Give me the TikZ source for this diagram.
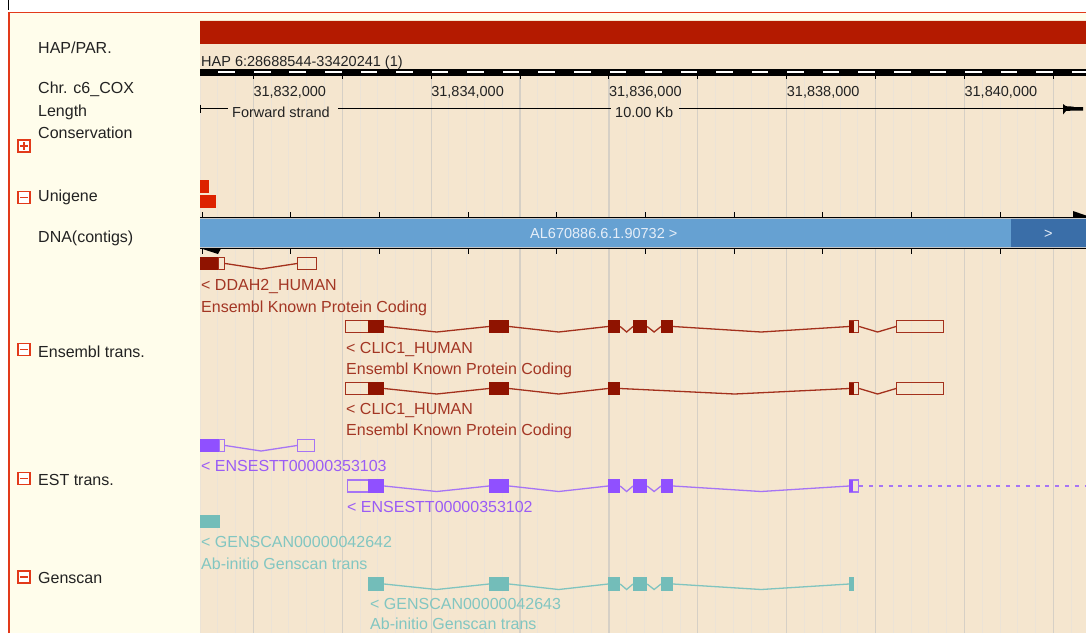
\documentclass[tikz,border=0pt]{standalone}
\usepackage{fontspec}
\setmainfont{Liberation Sans}
\usetikzlibrary{calc}
\definecolor{cream}{HTML}{FFFDEB}
\definecolor{wheatbg}{HTML}{F5E6CF}
\definecolor{hapred}{HTML}{B41A00}
\definecolor{border}{HTML}{E23A1A}
\definecolor{gridmin}{HTML}{ECE3D6}
\definecolor{gridmaj}{HTML}{D6D0C6}
\definecolor{unired}{HTML}{DD2200}
\definecolor{dnablue}{HTML}{66A1D2}
\definecolor{dnadark}{HTML}{3A6EA8}
\definecolor{dnatext}{HTML}{E6EEF8}
\definecolor{ensfill}{HTML}{8F1300}
\definecolor{ensline}{HTML}{A3301C}
\definecolor{enstext}{HTML}{A33624}
\definecolor{estfill}{HTML}{9050FF}
\definecolor{estline}{HTML}{A674F5}
\definecolor{esttext}{HTML}{9A5CF5}
\definecolor{gsfill}{HTML}{73BDB9}
\definecolor{gsline}{HTML}{80C4BF}
\definecolor{gstext}{HTML}{82C6C1}
\definecolor{labtext}{HTML}{222222}
\newcommand\exon[5]{\pgfmathsetmacro\exw{#4-#3}\node[#1, minimum width=\exw] (#2) at (#3,#5) {};}
\newcommand\intron[3]{\draw[#1] (#2.east) -- ($(#2.east)!.5!(#3.west)+(0,5.5)$) -- (#3.west);}
\begin{document}
\begin{tikzpicture}[x=1pt,y=-1pt,
  lab/.style={font=\fontsize{16}{18}\selectfont, text=labtext, anchor=base west, inner sep=0},
  sc/.style={font=\fontsize{14.5}{16}\selectfont, text=labtext, anchor=base west, inner sep=0},
  enst/.style={font=\fontsize{16}{18}\selectfont, text=enstext, anchor=base west, inner sep=0},
  estt/.style={font=\fontsize{16}{18}\selectfont, text=esttext, anchor=base west, inner sep=0},
  gst/.style={font=\fontsize{16}{18}\selectfont, text=gstext, anchor=base west, inner sep=0},
  exbase/.style={rectangle, inner sep=0, minimum height=12, line width=1.2, anchor=west},
  ensF/.style={exbase, fill=ensfill, draw=ensfill},
  ensO/.style={exbase, draw=ensline},
  ensL/.style={draw=ensline, line width=1.3},
  estF/.style={exbase, fill=estfill, draw=estfill},
  estO/.style={exbase, draw=estline},
  estL/.style={draw=estline, line width=1.3},
  gsF/.style={exbase, fill=gsfill, draw=gsfill},
  gsL/.style={draw=gsline, line width=1.3},
  toggle/.style={draw=border, fill=white, line width=1.2, minimum size=12, inner sep=0},
  tmark/.style={draw=border, line width=1.3}
]
\useasboundingbox (0,0) rectangle (1086,633);
\fill[white] (0,0) rectangle (1086,633);
\fill[cream] (9,12) rectangle (1086,633);
\fill[wheatbg] (200,20) rectangle (1086,633);
\draw[border, line width=1.2] (9,633) -- (9,12.5) -- (1086,12.5);
\draw[black, line width=1] (8,0) -- (8,10);
% HAP bar
\fill[hapred] (200,21) rectangle (1086,44);
\node[sc] (hap) at (201,66) {HAP 6:28688544-33420241 (1)};
% grid
\foreach \k in {0,...,49}{
  \pgfmathsetmacro\gx{200+17.778*\k}
  \pgfmathtruncatemacro\gm{mod(\k,5)}
  \ifnum\gm=3
    \draw[gridmaj, line width=1.2] (\gx,75) -- (\gx,633);
  \else
    \draw[gridmin, line width=1] (\gx,75) -- (\gx,633);
  \fi
}
% scale bar
\fill[black] (200,69) rectangle (1086,75.5);
\foreach \k in {1,3,...,49}{
  \pgfmathsetmacro\dx{200+17.778*\k+0.6}
  \pgfmathsetmacro\dy{min(200+17.778*(\k+1)-0.6,1086)}
  \fill[white] (\dx,71.2) rectangle (\dy,73.4);
}
\foreach \k in {0,...,9}{
  \pgfmathsetmacro\tx{253.33+88.89*\k}
  \draw[black, line width=1] (\tx,75) -- (\tx,79);
}
\node[sc] (t1) at (253.3,96) {31,832,000};
\node[sc] (t2) at (431.1,96) {31,834,000};
\node[sc] (t3) at (608.9,96) {31,836,000};
\node[sc] (t4) at (786.7,96) {31,838,000};
\node[sc] (t5) at (964.4,96) {31,840,000};
% length row
\coordinate (lenL) at (200,108.5);
\coordinate (lenR) at (1064,108.5);
\draw[black, line width=1] (200,104.5) -- (200,113);
\node[sc] (fwd) at (232,117) {Forward strand};
\node[sc] (kb) at (615,117) {10.00 Kb};
\draw[black, line width=1] (lenL) -- (228,108.5);
\draw[black, line width=1] (338,108.5) -- (611,108.5);
\draw[black, line width=1] (679,108.5) -- (lenR);
\fill[black] (1063,104) -- (1066,106.2) -- (1073,106.6) -- (1074,107) -- (1083,107) -- (1083,110.5) -- (1074,110.5) -- (1066,111) -- (1063,114.5) -- cycle;
% left labels
\node[lab] (l1) at (38,53) {HAP/PAR.};
\node[lab] (l2) at (38,93) {Chr. c6\_COX};
\node[lab] (l3) at (38,116) {Length};
\node[lab] (l4) at (38,138) {Conservation};
\node[lab] (l5) at (38,201.5) {Unigene};
\node[lab] (l6) at (38,242) {DNA(contigs)};
\node[lab] (l7) at (38,357) {Ensembl trans.};
\node[lab] (l8) at (38,485) {EST trans.};
\node[lab] (l9) at (38,583) {Genscan};
% toggles
\node[toggle] (tgc) at (24,146) {};
\draw[tmark] ($(tgc.center)+(-3.8,0)$) -- ($(tgc.center)+(3.8,0)$);
\draw[tmark] ($(tgc.center)+(0,-3.8)$) -- ($(tgc.center)+(0,3.8)$);
\node[toggle] (tgu) at (24,197.5) {};
\draw[tmark] ($(tgu.center)+(-3.8,0)$) -- ($(tgu.center)+(3.8,0)$);
\node[toggle] (tge) at (24,349.5) {};
\draw[tmark] ($(tge.center)+(-3.8,0)$) -- ($(tge.center)+(3.8,0)$);
\node[toggle] (tgs) at (24,478.5) {};
\draw[tmark] ($(tgs.center)+(-3.8,0)$) -- ($(tgs.center)+(3.8,0)$);
\node[toggle] (tgg) at (24,577) {};
\draw[tmark] ($(tgg.center)+(-3.8,0)$) -- ($(tgg.center)+(3.8,0)$);
% unigene
\fill[unired] (200,180) rectangle (209,193);
\fill[unired] (200,195) rectangle (216,208);
% DNA contigs
\draw[black, line width=1] (200,217) -- (1086,217);
\draw[black, line width=1] (200,248.5) -- (1086,248.5);
\foreach \k in {0,...,9}{
  \pgfmathsetmacro\cx{202+88.7*\k}
  \draw[black, line width=1] (\cx,212) -- (\cx,217);
  \draw[black, line width=1] (\cx,248.5) -- (\cx,253.5);
}
\fill[black] (1073,217) -- (1073,211) -- (1086,215.5) -- (1086,217) -- cycle;
\fill[black] (201,248.5) -- (221,248.5) -- (218,254) -- cycle;
\fill[dnablue] (200,219) rectangle (1011,246.5);
\fill[dnadark] (1011,219) rectangle (1086,246.5);
\draw[gray!45, line width=0.6] (200,218.6) -- (1086,218.6);
\draw[gray!45, line width=0.6] (200,246.9) -- (1086,246.9);
\node[font=\fontsize{14.5}{16}\selectfont, text=dnatext, inner sep=0, anchor=base west] (ctg) at (530,238) {AL670886.6.1.90732 >};
\node[font=\fontsize{14.5}{16}\selectfont, text=dnatext, inner sep=0, anchor=base west] (ctg2) at (1044,238) {>};
% DDAH2
\exon{ensF}{d1}{200}{218}{263.5}
\exon{ensO}{d2}{218}{224}{263.5}
\exon{ensO}{d3}{297}{316}{263.5}
\intron{ensL}{d2}{d3}
\node[enst] (dl1) at (201,290) {< DDAH2\_HUMAN};
\node[enst] (dl2) at (201,312) {Ensembl Known Protein Coding};
% CLIC1 row 1
\exon{ensO}{ao}{345}{368}{326.5}
\exon{ensF}{aa}{368}{383}{326.5}
\exon{ensF}{ab}{489}{508}{326.5}
\exon{ensF}{ac}{608}{619}{326.5}
\exon{ensF}{ad}{633}{646}{326.5}
\exon{ensF}{ae}{661}{672}{326.5}
\exon{ensO}{af}{849}{858}{326.5}
\fill[ensfill] (849,320.5) rectangle (853.5,332.5);
\exon{ensO}{ag}{896}{943}{326.5}
\intron{ensL}{aa}{ab}
\intron{ensL}{ab}{ac}
\intron{ensL}{ac}{ad}
\intron{ensL}{ad}{ae}
\intron{ensL}{ae}{af}
\intron{ensL}{af}{ag}
\node[enst] (al1) at (346,353) {< CLIC1\_HUMAN};
\node[enst] (al2) at (346,374.5) {Ensembl Known Protein Coding};
% CLIC1 row 2
\exon{ensO}{bo}{345}{368}{388.5}
\exon{ensF}{ba}{368}{383}{388.5}
\exon{ensF}{bb}{489}{508}{388.5}
\exon{ensF}{bc}{608}{619}{388.5}
\exon{ensO}{bf}{849}{858}{388.5}
\fill[ensfill] (849,382.5) rectangle (853.5,394.5);
\exon{ensO}{bg}{896}{943}{388.5}
\intron{ensL}{ba}{bb}
\intron{ensL}{bb}{bc}
\intron{ensL}{bc}{bf}
\intron{ensL}{bf}{bg}
\node[enst] (bl1) at (346,414) {< CLIC1\_HUMAN};
\node[enst] (bl2) at (346,435.5) {Ensembl Known Protein Coding};
% EST 1
\exon{estF}{s1}{200}{219}{445.5}
\exon{estO}{s2}{219}{224}{445.5}
\exon{estO}{s3}{297}{314}{445.5}
\intron{estL}{s2}{s3}
\node[estt] (sl1) at (201,471.5) {< ENSESTT00000353103};
% EST 2
\exon{estO}{uo}{347}{368}{486}
\exon{estF}{ua}{368}{383}{486}
\exon{estF}{ub}{489}{508}{486}
\exon{estF}{uc}{608}{619}{486}
\exon{estF}{ud}{633}{646}{486}
\exon{estF}{ue}{661}{672}{486}
\exon{estO}{uf}{849}{858}{486}
\fill[estfill] (849,480) rectangle (853,492);
\coordinate (uend) at (1086,486);
\intron{estL}{ua}{ub}
\intron{estL}{ub}{uc}
\intron{estL}{uc}{ud}
\intron{estL}{ud}{ue}
\intron{estL}{ue}{uf}
\draw[estL, dash pattern=on 4pt off 5.8pt] (uf.east) -- (uend);
\node[estt] (ul1) at (347,512) {< ENSESTT00000353102};
% Genscan 1
\exon{gsF}{g1}{200}{219}{521.5}
\node[gst] (gl1) at (201,547) {< GENSCAN00000042642};
\node[gst] (gl2) at (201,569) {Ab-initio Genscan trans};
% Genscan 2
\exon{gsF}{ha}{368}{383}{584}
\exon{gsF}{hb}{489}{508}{584}
\exon{gsF}{hc}{608}{619}{584}
\exon{gsF}{hd}{633}{646}{584}
\exon{gsF}{he}{661}{672}{584}
\exon{gsF}{hf}{849}{853}{584}
\intron{gsL}{ha}{hb}
\intron{gsL}{hb}{hc}
\intron{gsL}{hc}{hd}
\intron{gsL}{hd}{he}
\intron{gsL}{he}{hf}
\node[gst] (hl1) at (370,609.5) {< GENSCAN00000042643};
\node[gst] (hl2) at (370,629) {Ab-initio Genscan trans};
\end{tikzpicture}
\end{document}
